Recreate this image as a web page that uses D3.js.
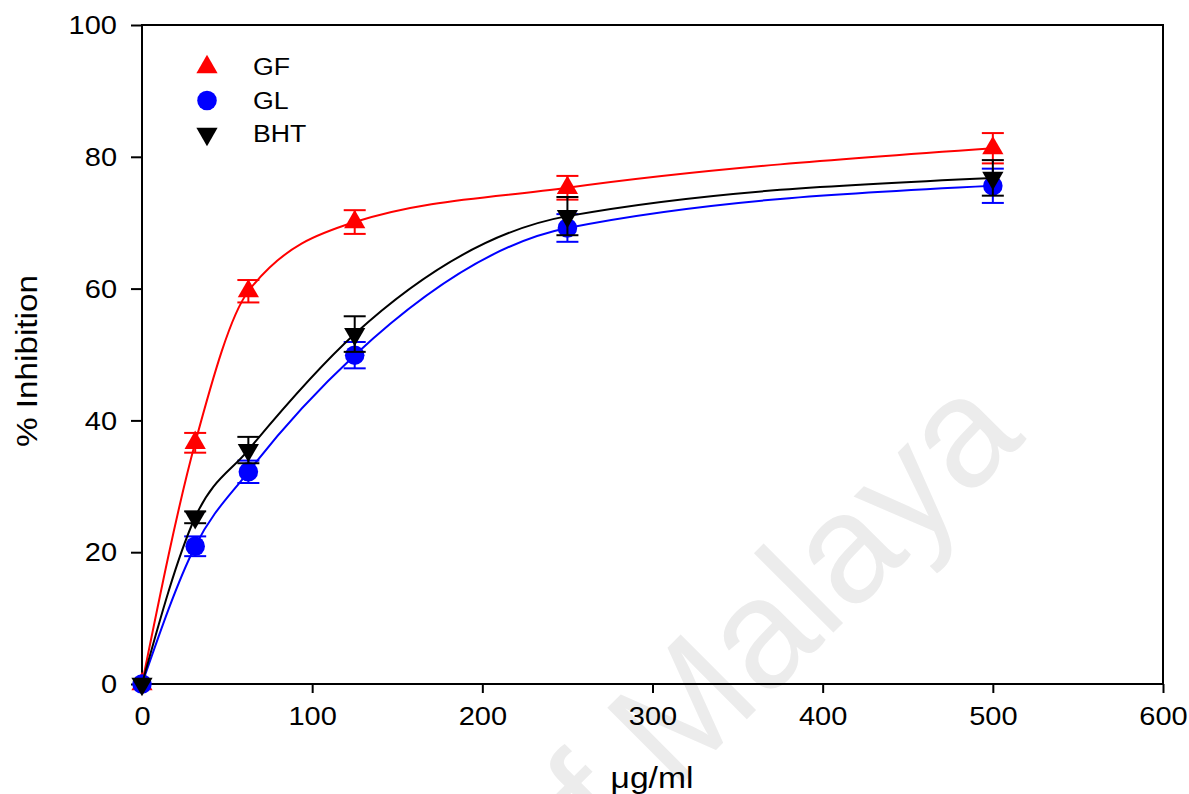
<!DOCTYPE html>
<html>
<head>
<meta charset="utf-8">
<script src="https://cdn.jsdelivr.net/npm/d3@7"></script>
<style>
  body { margin: 0; background: #fff; }
  svg { display: block; font-family: Arial, "Liberation Sans", sans-serif; }
</style>
</head>
<body>
<div id="chart"></div>
<script>
// concentration (ug/ml) and % inhibition
var conc = [0, 31.25, 62.5, 125, 250, 500];
var gfVals = [0, 36.6, 59.6, 70.1, 75.3, 81.3];
var gfErr = [0, 1.5, 1.7, 1.8, 1.8, 2.3];
var glVals = [0, 20.9, 32.2, 49.9, 69.2, 75.6];
var glErr = [0, 1.5, 1.7, 2.0, 2.1, 2.6];
var bhtVals = [0, 25.3, 35.5, 53.1, 71.0, 76.8];
var bhtErr = [0, 0.9, 2.0, 2.7, 2.9, 2.7];
var seriesNames = ["GF", "GL", "BHT"];
var xTicks = [0, 100, 200, 300, 400, 500, 600];
var yTicks = [0, 20, 40, 60, 80, 100];

var colors = { "GF": "#FF0000", "GL": "#0000FF", "BHT": "#000000" };
var shapes = { "GF": "up", "GL": "circle", "BHT": "down" };

var W = 1189, H = 794;
var margin = { top: 25, right: 26, bottom: 110, left: 142 };
var width = W - margin.left - margin.right,
    height = H - margin.top - margin.bottom;

// the source figure is a little wider than tall, so text reads stretched
var stretch = 1.16;
function widen(sel, k) {
    sel.each(function () {
        var len = this.getComputedTextLength();
        d3.select(this)
            .attr("textLength", len * k)
            .attr("lengthAdjust", "spacingAndGlyphs");
    });
}

var svg = d3.select("#chart").append("svg")
    .attr("width", W)
    .attr("height", H);

// faint watermark behind the chart
svg.append("text")
    .attr("transform", "translate(1027,439) rotate(-45)")
    .attr("text-anchor", "end")
    .style("font-size", "155px")
    .style("fill", "#ececec")
    .text("University of Malaya");

var x = d3.scaleLinear().domain([0, 600]).range([0, width]);
var y = d3.scaleLinear().domain([0, 100]).range([height, 0]);

var g = svg.append("g")
    .attr("transform", "translate(" + margin.left + "," + margin.top + ")");

var series = [
    { name: "GF", vals: gfVals, err: gfErr },
    { name: "GL", vals: glVals, err: glErr },
    { name: "BHT", vals: bhtVals, err: bhtErr }
].map(function (s) {
    s.points = conc.map(function (c, i) {
        return { x: c, y: s.vals[i], e: s.err[i] };
    });
    return s;
});

function symbolPath(shape) {
    if (shape == "circle") return d3.symbol().type(d3.symbolCircle).size(300)();
    return d3.symbol().type(d3.symbolTriangle).size(195)();
}
function symbolTransform(shape, px, py) {
    if (shape == "down") return "translate(" + px + "," + py + ") rotate(180)";
    return "translate(" + px + "," + py + ")";
}

// axes (ticks outward, frame on all sides)
var xAxis = d3.axisBottom(x).tickValues(xTicks).tickSize(9).tickPadding(14);
var gX = g.append("g")
    .attr("transform", "translate(0," + height + ")")
    .call(xAxis);
var yAxis = d3.axisLeft(y).tickValues(yTicks).tickSize(11).tickPadding(14);
var gY = g.append("g").call(yAxis);

[gX, gY].forEach(function (ax) {
    ax.select(".domain").remove();
    ax.selectAll("line").attr("stroke", "#000").attr("stroke-width", 2);
    ax.selectAll("text")
        .style("font-size", "25px")
        .style("font-family", "Arial, 'Liberation Sans', sans-serif")
        .attr("fill", "#000");
    widen(ax.selectAll("text"), stretch);
});
gY.selectAll("text").attr("dy", "0.35em");

g.append("rect")
    .attr("width", width)
    .attr("height", height)
    .attr("fill", "none")
    .attr("stroke", "#000")
    .attr("stroke-width", 2);

var line = d3.line()
    .x(function (d) { return x(d.x); })
    .y(function (d) { return y(d.y); })
    .curve(d3.curveMonotoneX);

series.forEach(function (s) {
    var col = colors[s.name];
    var sg = g.append("g").attr("class", "series-" + s.name);

    sg.append("path")
        .datum(s.points)
        .attr("d", line)
        .attr("fill", "none")
        .attr("stroke", col)
        .attr("stroke-width", 2);

    var eb = sg.selectAll(".err")
        .data(s.points.filter(function (d) { return d.e > 0; }))
        .enter().append("g")
        .attr("class", "err")
        .attr("stroke", col)
        .attr("stroke-width", 2);
    eb.append("line")
        .attr("x1", function (d) { return x(d.x); })
        .attr("x2", function (d) { return x(d.x); })
        .attr("y1", function (d) { return y(d.y - d.e); })
        .attr("y2", function (d) { return y(d.y + d.e); });
    eb.append("line")
        .attr("x1", function (d) { return x(d.x) - 11; })
        .attr("x2", function (d) { return x(d.x) + 11; })
        .attr("y1", function (d) { return y(d.y + d.e); })
        .attr("y2", function (d) { return y(d.y + d.e); });
    eb.append("line")
        .attr("x1", function (d) { return x(d.x) - 11; })
        .attr("x2", function (d) { return x(d.x) + 11; })
        .attr("y1", function (d) { return y(d.y - d.e); })
        .attr("y2", function (d) { return y(d.y - d.e); });

    sg.selectAll(".pt")
        .data(s.points)
        .enter().append("path")
        .attr("class", "pt")
        .attr("d", symbolPath(shapes[s.name]))
        .attr("transform", function (d) {
            return symbolTransform(shapes[s.name], x(d.x), y(d.y));
        })
        .attr("fill", col);
});

// legend
var legend = svg.append("g").attr("transform", "translate(207,67)");
seriesNames.forEach(function (name, i) {
    var row = legend.append("g").attr("transform", "translate(0," + (i * 33.5) + ")");
    row.append("path")
        .attr("d", symbolPath(shapes[name]))
        .attr("transform", symbolTransform(shapes[name], 0, 0))
        .attr("fill", colors[name]);
    var t = row.append("text")
        .attr("x", 46)
        .attr("dy", "0.36em")
        .style("font-size", "23px")
        .text(name);
    widen(t, stretch);
});

// axis titles
var xt = svg.append("text")
    .attr("x", 652)
    .attr("y", 788)
    .attr("text-anchor", "middle")
    .style("font-size", "30px")
    .text("μg/ml");
widen(xt, 1.12);

svg.append("text")
    .attr("transform", "translate(37,361) rotate(-90)")
    .attr("text-anchor", "middle")
    .attr("textLength", 172)
    .attr("lengthAdjust", "spacingAndGlyphs")
    .style("font-size", "30px")
    .text("% Inhibition");
</script>
</body>
</html>
